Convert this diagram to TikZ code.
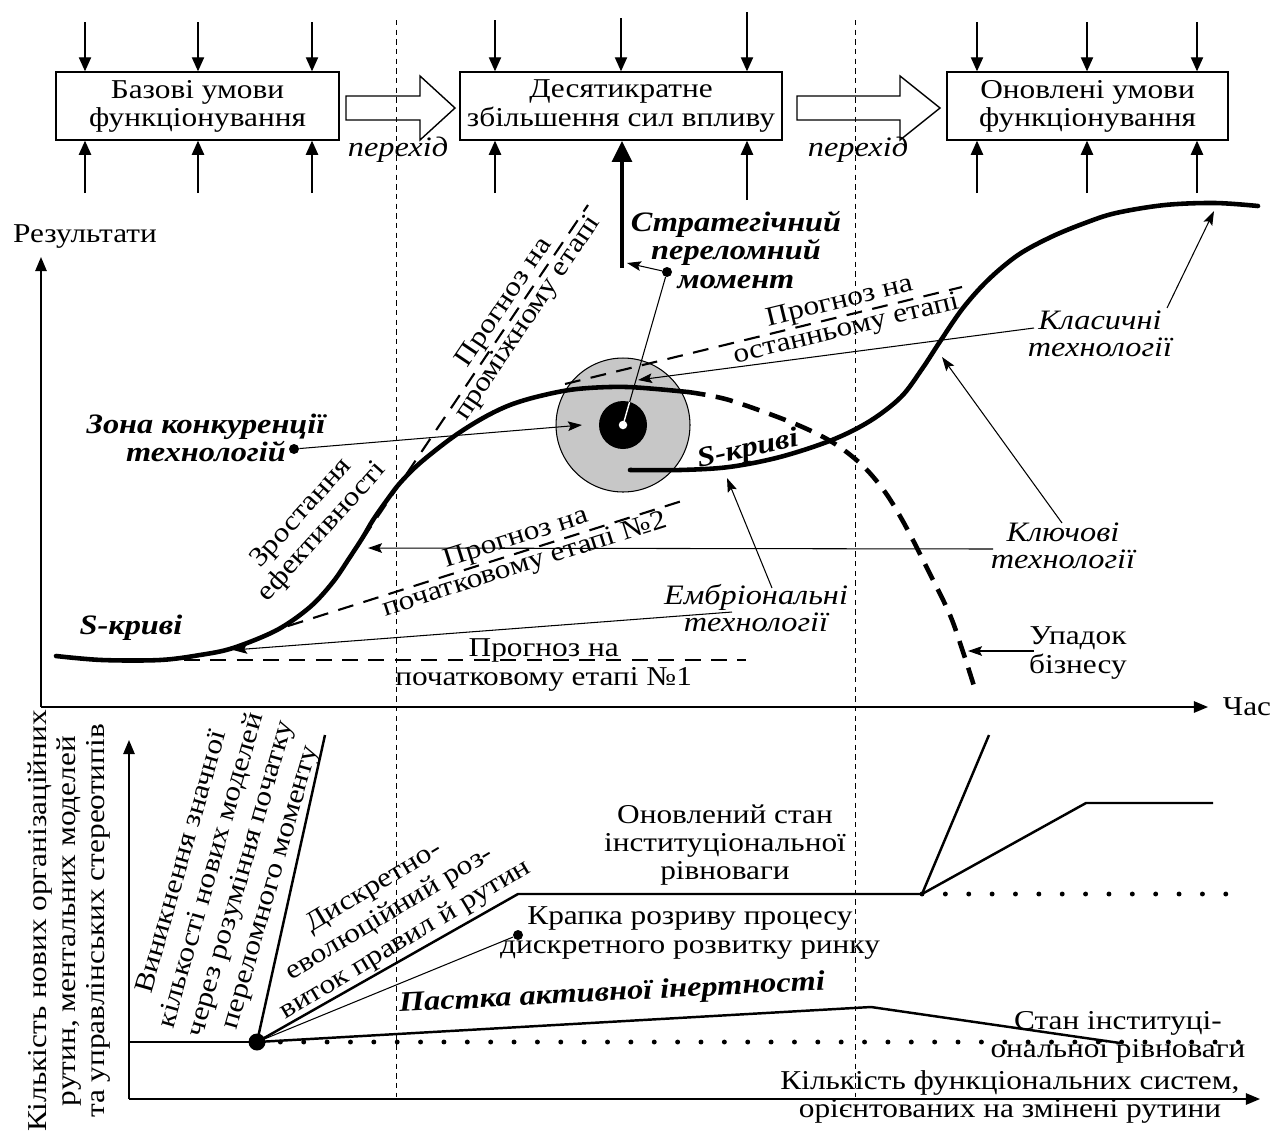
\documentclass[tikz,border=0pt]{standalone}
\usepackage{fontspec}
\setmainfont{Liberation Serif}[FakeStretch=1.15]
\usetikzlibrary{arrows.meta}

\begin{document}
\begin{tikzpicture}[x=0.02cm, y=-0.02cm,
  every node/.style={font=\fontsize{15.5}{16}\selectfont, align=center, inner sep=0pt},
  box/.style={draw, line width=0.8pt, minimum height=1.36cm},
  ioarrow/.style={line width=0.7pt, -{Triangle[length=8pt,width=7pt]}},
  bigarrow/.style={line width=2.4pt, -{Triangle[length=12pt,width=11pt]}},
  hollow/.style={draw, line width=0.8pt, line join=miter},
  divider/.style={line width=0.5pt, dash pattern=on 3pt off 2.5pt},
  axisarrow/.style={line width=0.8pt, -{Triangle[length=8pt,width=6.5pt]}},
  scurve/.style={line width=2.6pt, line cap=round},
  fall/.style={line width=2.6pt, dash pattern=on 10pt off 6pt},
  forecast/.style={line width=1.2pt, dash pattern=on 9pt off 6pt},
  pointer/.style={line width=0.6pt, -{Stealth[length=8pt,width=5.5pt,inset=1.5pt]}},
  route/.style={line width=1.4pt},
  dots/.style={line width=2.8pt, line cap=round, dash pattern=on 0pt off 13.3pt},
  dot/.style={circle, fill, minimum size=0.2cm},
  note/.style={font=\fontsize{16}{15.5}\selectfont\itshape},
  accent/.style={font=\fontsize{16}{16.2}\selectfont\bfseries\itshape}]
  \useasboundingbox (0,0) rectangle (1274,1133);

  % helper: three inputs from above and three from below
  \newcommand{\boxinputs}[2]{%
    \foreach \x [count=\i] in {#2} {
      \coordinate (#1-in\i) at (\x,22);
      \coordinate (#1-out\i) at (\x,193);
      \draw[ioarrow] (#1-in\i) -- (#1-in\i |- #1.north);
      \draw[ioarrow] (#1-out\i) -- (#1-out\i |- #1.south);
    }}
  % helper: wide hollow arrow between boxes
  \newcommand{\passarrow}[3]{%
    \draw[hollow] (#1,96) -- ++(#2,0) -- ++(0,-20) -- ++(#3,32) -- ++(-#3,32)
      -- ++(0,-20) -- ++(-#2,0) -- cycle;}

  %==================== top row ====================
  \node[box, minimum width=5.66cm] (base) at (197.5,106) {Базові умови\\функціонування};
  \node[box, minimum width=6.44cm] (tenfold) at (621,106) {Десятикратне\\збільшення сил впливу};
  \node[box, minimum width=5.62cm] (renewed) at (1087.5,106) {Оновлені умови\\функціонування};
  \boxinputs{base}{85,198,312}
  \boxinputs{renewed}{977,1087,1197}
  \foreach \x/\y [count=\i] in {495/20,621/18,747/12} {
    \coordinate (tenfold-in\i) at (\x,\y);
    \draw[ioarrow] (tenfold-in\i) -- (tenfold-in\i |- tenfold.north);
  }
  \coordinate (tenfold-out1) at (495,193);
  \coordinate (tenfold-out3) at (747,200);
  \draw[ioarrow] (tenfold-out1) -- (tenfold-out1 |- tenfold.south);
  \draw[ioarrow] (tenfold-out3) -- (tenfold-out3 |- tenfold.south);

  \passarrow{346}{74}{35}
  \passarrow{797}{103}{40}
  \node[note] (pass1) at (398,150) {перехід};
  \node[note] (pass2) at (858,150) {перехід};

  % stage borders
  \foreach \x [count=\i] in {396,855} {
    \coordinate (border\i-top) at (\x,20);
    \coordinate (border\i-bot) at (\x,1097);
    \draw[divider] (border\i-top) -- (border\i-bot);
  }

  %==================== upper chart ====================
  \coordinate (O1) at (41,707);
  \coordinate (Y1) at (41,257);
  \coordinate (X1) at (1208,707);
  \draw[axisarrow] (O1) -- (Y1);
  \draw[axisarrow] (O1) -- (X1);
  \node (results) at (85,237) {Результати};
  \node (time) at (1247,707) {Час};

  % zone of competition
  \node[circle, draw, line width=0.6pt, fill=black!22, minimum size=2.68cm] (rival) at (623,425) {};
  \node[circle, fill=black, minimum size=0.96cm] (core) at (623,425) {};

  % forecasts
  \coordinate (f1a) at (184,660); \coordinate (f1b) at (746,660);
  \coordinate (f2a) at (288,626); \coordinate (f2b) at (685,500);
  \coordinate (f3a) at (333,583); \coordinate (f3b) at (588,205);
  \coordinate (f4a) at (565,384); \coordinate (f4b) at (962,287);
  \draw[forecast] (f1a) -- node[pos=0.64, yshift=-0.1cm] (f1text) {Прогноз на\\початковому етапі №1} (f1b);
  \draw[forecast] (f2a) -- node[sloped, pos=0.586] (f2text) {Прогноз на\\початковому етапі №2} (f2b);
  \draw[forecast] (f3a) -- node[sloped, pos=0.72] (f3text) {Прогноз на\\проміжному етапі} (f3b);
  \draw[forecast] (f4a) -- node[sloped, pos=0.70] (f4text) {Прогноз на\\останньому етапі} (f4b);

  % S-curves
  \draw[scurve] plot[smooth, tension=0.55] coordinates {(56,656) (102,660) (160,660)
    (200,655) (233,648) (277,630) (310,607) (333,582) (350,557) (363,537) (373,520)
    (387,500) (400,483) (420,463) (453,437) (483,418) (510,405) (540,396) (577,389)
    (627,387) (688,392)};
  \draw[fall] plot[smooth, tension=0.55] coordinates {(688,392) (729,400) (793,423)
    (832,442) (862,465) (885,492) (905,525) (928,570) (950,615) (964,655) (974,686)};
  \draw[scurve] plot[smooth, tension=0.55] coordinates {(630,470) (680,470) (729,467)
    (780,457) (832,440) (870,421) (901,397) (922,369) (941,340) (963,308) (988,280)
    (1018,255) (1051,237) (1085,223) (1116,213) (1165,205) (1215,203) (1258,206)};

  \node[accent] (scurves1) at (131,628) {S-криві};
  \node[accent, rotate=12] (scurves2) at (748,450) {S-криві};
  \node[rotate=48] (growth) at (312,523) {Зростання\\ефективності};

  % strategic turning point
  \node[accent] (strat) at (736,250) {Стратегічний\\переломний\\момент};
  \node[dot] (stratdot) at (667,272) {};
  \coordinate (turn) at (622,268);
  \coordinate (turnmark) at (627,263);
  \draw[bigarrow] (turn) -- (turn |- tenfold.south);
  \draw[pointer] (stratdot) -- (turnmark);
  \draw[line width=0.6pt] (stratdot) -- (core.center);
  \begin{scope}
    \clip (core.center) circle (0.48cm);
    \draw[white, line width=0.8pt] (stratdot) -- (core.center);
  \end{scope}
  \node[circle, fill=white, minimum size=0.17cm] (hub) at (623,425) {};

  % zone label
  \node[accent] (zone) at (206,438) {Зона конкуренції\\технологій};
  \node[dot] (zonedot) at (294,449) {};
  \coordinate (zonetip) at (582,425);
  \draw[pointer] (zonedot) -- (zonetip);

  % technologies
  \node[note] (classic) at (1100,334) {Класичні\\технології};
  \coordinate (cl-a) at (1167,308); \coordinate (cl-tip) at (1214,211);
  \coordinate (cl-b) at (1034,328); \coordinate (cl-tip2) at (638,380);
  \draw[pointer] (cl-a) -- (cl-tip);
  \draw[pointer] (cl-b) -- (cl-tip2);

  \node[note] (key) at (1063,546) {Ключові\\технології};
  \coordinate (key-a) at (1062,523); \coordinate (key-tip) at (942,357);
  \coordinate (key-b) at (993,549); \coordinate (key-tip2) at (368,548);
  \draw[pointer] (key-a) -- (key-tip);
  \draw[pointer] (key-b) -- (key-tip2);

  \node[note] (embryo) at (756,608) {Ембріональні\\технології};
  \coordinate (em-a) at (772,588); \coordinate (em-tip) at (727,478);
  \coordinate (em-b) at (732,612); \coordinate (em-tip2) at (233,650);
  \draw[pointer] (em-a) -- (em-tip);
  \draw[pointer] (em-b) -- (em-tip2);

  \node (decline) at (1078,653) {Упадок\\бізнесу};
  \coordinate (dec-a) at (1034,651); \coordinate (dec-tip) at (968,651);
  \draw[pointer] (dec-a) -- (dec-tip);

  %==================== lower chart ====================
  \coordinate (O2) at (129,1099);
  \coordinate (Y2) at (129,740);
  \coordinate (X2) at (1260,1099);
  \draw[axisarrow] (O2) -- (Y2);
  \draw[axisarrow] (O2) -- (X2);
  \node[rotate=90, font=\fontsize{15.5}{16.4}\selectfont] (ylab) at (69,921)
    {Кількість нових організаційних\\рутин, ментальних моделей\\та управлінських стереотипів};
  \node[font=\fontsize{15.5}{16.4}\selectfont] (xlab) at (1010,1097)
    {Кількість функціональних систем,\\орієнтованих на змінені рутини};

  \coordinate (start) at (129,1042);
  \coordinate (knot) at (257,1042);
  \coordinate (steep) at (325,735);
  \coordinate (kink) at (518,894);
  \coordinate (renew) at (922,894);
  \coordinate (renew-up) at (989,735);
  \coordinate (renew-mid) at (1086,803);
  \coordinate (renew-end) at (1213,803);
  \coordinate (renew-dots) at (1232,894);
  \coordinate (trap-top) at (871,1007);
  \coordinate (trap-end) at (1120,1043);
  \coordinate (eq-dots) at (1248,1042);

  \draw[dots] (knot) -- (eq-dots);
  \draw[dots] (renew) -- (renew-dots);
  \draw[route] (start) -- (knot);
  \draw[route] (knot) -- (steep);
  \draw[route] (knot) -- (kink) -- (renew);
  \draw[route] (renew) -- (renew-up);
  \draw[route] (renew) -- (renew-mid) -- (renew-end);
  \draw[route] (knot) -- (trap-top) -- (trap-end);
  \node[dot] (breakdot) at (518,935) {};
  \draw[line width=0.6pt] (knot) -- (breakdot);
  \node[circle, fill, minimum size=0.34cm] (knotdot) at (knot) {};

  \node[rotate=74, font=\fontsize{15.5}{17.5}\selectfont] (emerge) at (227,875)
    {Виникнення значної\\кількості нових моделей\\через розуміння початку\\переломного моменту};
  \node[rotate=31, font=\fontsize{15.5}{17.5}\selectfont] (discrete) at (390,914)
    {Дискретно-\\еволюційний роз-\\виток правил й рутин};
  \node (renewstate) at (725,845) {Оновлений стан\\інституціональної\\рівноваги};
  \node (breakpt) at (690,933) {Крапка розриву процесу\\дискретного розвитку ринку};
  \node[accent, rotate=3] (trap) at (612,994) {Пастка активної інертності};
  \node (eqstate) at (1118,1037) {Стан інституці-\\ональної рівноваги};
\end{tikzpicture}
\end{document}
